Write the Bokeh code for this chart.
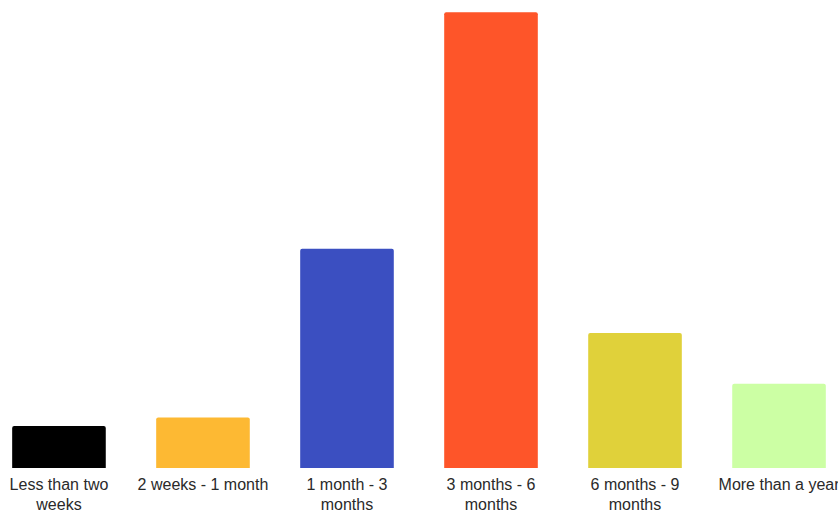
from bokeh.plotting import figure
from bokeh.models import Range1d, ColumnDataSource
from bokeh.core.properties import value
from bokeh.embed import file_html
from bokeh.resources import INLINE

# Time-span categories and response counts
categories = ["Less than two\nweeks", "2 weeks - 1 month", "1 month - 3\nmonths",
              "3 months - 6\nmonths", "6 months - 9\nmonths", "More than a year"]
counts = [5, 6, 26, 54, 16, 10]
colors = ["#000000", "#FDB933", "#3B4FC1", "#FE5529", "#E0D13A", "#CCFFA4"]

src = ColumnDataSource(dict(
    x=list(range(len(categories))),
    top=counts,
    color=colors,
    label=categories,
))

p = figure(width=838, height=514, output_backend="svg", toolbar_location=None,
           x_range=Range1d(-0.406, 5.413), y_range=Range1d(-5.5, 55.4),
           min_border=0, outline_line_color=None, background_fill_color="white",
           border_fill_color="white")
p.axis.visible = False
p.grid.visible = False

p.vbar(x="x", top="top", bottom=0, width=0.65, fill_color="color",
       line_color=None, border_radius=(2, 2, 0, 0), source=src)

p.text(x="x", y=0, text="label", source=src, text_align="center",
       text_baseline="top", y_offset=8, text_font=value("Liberation Sans"),
       text_font_size="16px", text_color="#2a2a2a", text_line_height=1.15)

open("out.html", "w").write(file_html(p, INLINE))
